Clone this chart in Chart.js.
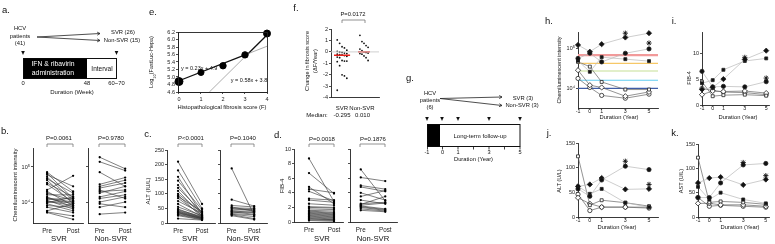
<!DOCTYPE html>
<html>
<head>
<meta charset="utf-8">
<script src="https://cdn.jsdelivr.net/npm/chart.js@4.4.0/dist/chart.umd.min.js"></script>
<style>
  body { margin: 0; background: #fff; }
  #fig { position: relative; width: 775px; height: 244px; overflow: hidden;
         font-family: 'Liberation Sans', Arial, sans-serif; color: #111; }
  #fig canvas, #fig svg { position: absolute; }
  .t { position: absolute; white-space: nowrap; line-height: 1; }
</style>
</head>
<body>
<div id="fig"></div>
<script>
// ---- b. chemiluminescent intensity before / after treatment
const bSvrPre  = [71000, 66000, 60000, 52000, 46000, 42000, 35000, 32000, 22000, 20000, 18000, 16000, 14000,
                  13000, 12600, 12000, 11200, 10500, 10000, 9500, 8900, 7900, 7100, 5600, 5200, 5000];
const bSvrPost = [20000, 12600, 28000, 11200, 18000, 8900, 14000, 10000, 56000, 7900, 11200, 16000, 7100,
                  10000, 8900, 12600, 6300, 7900, 10000, 14000, 5600, 7100, 5000, 8900, 4000, 3200];
const bNonPre  = [190000, 141000, 71000, 32000, 28000, 25000, 22000, 20000, 18000, 14000, 12600, 10000, 8900, 7100, 4500];
const bNonPost = [89000, 79000, 28000, 50000, 42000, 35000, 12600, 22000, 28000, 20000, 16000, 14000, 7100, 10000, 5000];

// ---- c. ALT (IU/L)
const cSvrPre  = [210, 180, 158, 145, 130, 120, 110, 100, 95, 90, 85, 75, 65, 55, 48, 45, 42, 40, 38, 36, 35, 33, 30, 28, 25, 15];
const cSvrPost = [65, 50, 30, 45, 28, 38, 24, 35, 20, 40, 26, 33, 22, 25, 18, 22, 20, 18, 17, 16, 15, 15, 14, 12, 11, 10];
const cNonPre  = [187, 80, 60, 55, 52, 50, 45, 42, 40, 38, 35, 32, 30, 28, 25];
const cNonPost = [26, 58, 55, 40, 50, 45, 48, 35, 42, 30, 38, 28, 22, 15, 12];

// ---- d. FIB-4
const dSvrPre  = [8.7, 6.7, 4.8, 4.5, 4.2, 3.2, 3.0, 2.5, 2.1, 2.0, 1.8, 1.6, 1.5, 1.4, 1.3, 1.2, 1.1, 1.0, 0.9, 0.8, 0.7, 0.6, 0.5, 0.4, 0.3, 0.2];
const dSvrPost = [2.8, 3.9, 2.5, 4.0, 2.9, 3.0, 2.7, 2.3, 2.0, 1.9, 1.7, 1.5, 1.3, 1.2, 1.1, 1.0, 0.9, 0.8, 0.7, 0.6, 0.5, 0.4, 0.3, 0.3, 0.2, 0.1];
const dNonPre  = [7.2, 6.1, 5.0, 4.8, 4.0, 3.5, 3.0, 2.5, 2.4, 2.3, 2.2, 2.1, 2.0, 1.8, 1.6];
const dNonPost = [2.9, 5.6, 4.5, 4.2, 3.0, 4.3, 2.5, 2.7, 3.5, 2.6, 1.8, 1.7, 1.6, 1.5, 1.4];

// ---- e. log10(FastLuc-Hepa) vs fibrosis score
const eScore = [0, 1, 2, 3, 4];
const eLuc = [4.88, 5.12, 5.30, 5.59, 6.16];
const eFitLowX = [0, 3, 4],    eFitLowY = [4.9, 5.59, 5.82];   // y = 0.23x + 4.9
const eFitHighX = [1.38, 3, 4], eFitHighY = [4.6, 5.54, 6.12]; // y = 0.58x + 3.8

// ---- f. change in fibrosis score per year
const fGroups = ['SVR', 'Non-SVR'];
const fSvr = [1.05, 0.75, 0.45, 0.35, 0.15, 0.05, 0.0, -0.05, -0.1, -0.15, -0.2, -0.25, -0.27,
              -0.32, -0.38, -0.45, -0.5, -0.75, -0.8, -0.8, -0.85, -1.2, -2.0, -2.1, -2.3, -3.35];
const fNon = [1.45, 0.9, 0.75, 0.55, 0.4, 0.25, 0.1, 0.01, -0.05, -0.1, -0.15, -0.2, -0.35, -0.5, -0.75];
const fMedian = [-0.295, 0.010];

// ---- h-k. long-term follow-up of 6 patients
const years = [-1, 0, 1, 3, 5];
const hCut = [70000, 43000, 27500, 16000, 10000];
const hN1 = [126000, 85000, 132000, 195000, 251000];
const hN2 = [57500, 77600, 46800, 77600, 100000];
const hN3 = [50100, 26300, 61700, 55000, 49000];
const hO1 = [46800, 35500, 14500, 9300, 9300];
const hO2 = [28800, 12000, 10500, 6300, 8100];
const hO3 = [17800, 10500, 6600, 5600, 7100];
const hStarX = [3, 5], hStarY = [251000, 141000];

const iN1 = [6.5, 3.5, 3.6, 3.5, 4.5];
const iN2 = [4.2, 4.8, 6.8, 8.5, 9.0];
const iN3 = [3.0, 3.4, 5.0, 8.8, 10.5];
const iO1 = [2.0, 2.7, 2.6, 2.7, 2.3];
const iO2 = [4.5, 1.7, 1.9, 2.0, 1.8];
const iO3 = [3.2, 2.8, 2.5, 2.4, 2.0];
const iStarX = [3, 5], iStarY = [9.2, 5.2];

const jN1 = [57, 42, 75, 103, 96];
const jN2 = [62, 66, 79, 56, 57];
const jN3 = [62, 47, 57, 29, 20];
const jO1 = [123, 24, 34, 29, 22];
const jO2 = [46, 13, 20, 20, 18];
const jO3 = [39, 27, 20, 20, 20];
const jStarX = [3, 5], jStarY = [113, 66];

const kN1 = [40, 40, 70, 107, 110];
const kN2 = [70, 80, 82, 66, 77];
const kN3 = [62, 36, 50, 36, 28];
const kO1 = [122, 30, 32, 30, 26];
const kO2 = [40, 22, 24, 22, 20];
const kO3 = [28, 28, 25, 25, 22];
const kStarX = [3, 5], kStarY = [112, 85];

const fig = document.getElementById('fig');
Chart.defaults.font.family = "'Liberation Sans', Arial, sans-serif";
Chart.defaults.color = '#222';

// absolutely placed text, centred on (x, y)
function T(x, y, html, size = 5.8, o = {}) {
  const d = document.createElement('div');
  d.className = 't';
  d.innerHTML = html;
  const tr = o.left ? 'translate(0,-50%)' : 'translate(-50%,-50%)';
  d.style.cssText += `left:${x}px;top:${y}px;font-size:${size}px;color:${o.c || '#111'};` +
    `transform:${tr}${o.rot ? ' rotate(-90deg)' : ''};`;
  fig.appendChild(d);
}

function axis(min, max, ticks, o = {}) {
  return {
    type: o.log ? 'logarithmic' : 'linear', min, max,
    afterBuildTicks: s => { s.ticks = ticks.map(v => ({ value: v })); },
    grid: { display: !o.noTicks, drawOnChartArea: false, tickLength: o.tl ?? 2, color: '#222', lineWidth: 0.8 },
    border: { display: true, color: '#222', width: 0.9 },
    ticks: { display: !o.hide, padding: o.pad ?? 1, autoSkip: false, maxRotation: 0, color: '#222',
             font: { size: o.size ?? 5.5 }, callback: o.cb || (v => v) },
  };
}

// chart area is [left, top, right, bottom] in page pixels
function plot(area, datasets, xs, ys, o = {}) {
  const [l, t, r, b] = area;
  const yW = o.yW ?? 14, xH = o.xH ?? 9, pT = o.pT ?? 5, pR = o.pR ?? 6;
  const cv = document.createElement('canvas');
  const W = r - l + yW + pR, H = b - t + pT + xH;
  cv.width = W; cv.height = H;
  cv.style.cssText = `left:${l - yW}px;top:${t - pT}px;width:${W}px;height:${H}px;`;
  fig.appendChild(cv);
  xs.afterFit = s => { s.height = xH; };
  ys.afterFit = s => { s.width = yW; };
  return new Chart(cv, {
    type: 'scatter',
    data: { datasets },
    options: {
      responsive: false, animation: false, devicePixelRatio: 1,
      layout: { padding: { left: 0, top: pT, right: pR, bottom: 0 } },
      scales: { x: xs, y: ys },
      plugins: { legend: { display: false }, tooltip: { enabled: false } },
    },
    plugins: o.plugins || [],
  });
}

function pairSets(pre, post) {
  return pre.map((v, i) => ({
    data: [{ x: 0, y: v }, { x: 1, y: post[i] }], showLine: true, clip: false,
    borderColor: '#3a3a3a', borderWidth: 0.65, pointRadius: 1.15,
    pointBackgroundColor: '#000', pointBorderWidth: 0,
  }));
}

function course(vals, style, filled) {
  return {
    data: vals.map((v, i) => ({ x: years[i], y: v })), showLine: true, clip: false,
    borderColor: filled ? '#b8b8b8' : '#666', borderWidth: 0.7,
    pointStyle: style, pointRadius: style === 'rectRot' ? 2.6 : 2.1,
    pointBackgroundColor: filled ? '#111' : '#fff', pointBorderColor: '#222', pointBorderWidth: 0.8,
  };
}

function stars(xs, ys) {
  return { data: xs.map((x, i) => ({ x, y: ys[i] })), clip: false, pointStyle: 'star',
           pointRadius: 2.6, pointBorderColor: '#111', pointBorderWidth: 0.9 };
}

const prePost = ['Pre', 'Post'];
const ppX = (min, max) => axis(min, max, [0, 1], { size: 6.3, pad: 2, cb: (v, i) => prePost[i], noTicks: true });

// ---- b
const bY = (hide) => axis(2512, 349000, [1e4, 1e5], { log: true, hide, cb: (v, i) => ['10⁴', '10⁵'][i] });
plot([33, 148, 83, 223], pairSets(bSvrPre, bSvrPost), ppX(-0.54, 1.38), bY(false), { xH: 10 });
plot([87, 148, 130, 223], pairSets(bNonPre, bNonPost), ppX(-0.46, 1.19), bY(true), { yW: 3, xH: 10 });

// ---- c
const cY = (hide) => axis(0, 250, [0, 50, 100, 150, 200, 250], { hide });
plot([167, 150, 215, 223], pairSets(cSvrPre, cSvrPost), ppX(-0.46, 1.54), cY(false), { xH: 10 });
plot([219, 150, 267, 223], pairSets(cNonPre, cNonPost), ppX(-0.52, 1.57), cY(true), { yW: 3, xH: 10 });

// ---- d
const dY = (hide) => axis(0, 10, [0, 2, 4, 6, 8, 10], { hide });
plot([294, 149, 343, 222], pairSets(dSvrPre, dSvrPost), ppX(-0.6, 1.36), dY(false), { xH: 10 });
plot([349, 149, 397, 222], pairSets(dNonPre, dNonPost), ppX(-0.44, 1.48), dY(true), { yW: 3, xH: 10 });

// ---- e
const frame = {
  id: 'frame',
  afterDraw(ch) {
    const a = ch.chartArea, g = ch.ctx;
    g.save(); g.strokeStyle = '#222'; g.lineWidth = 0.9;
    g.strokeRect(Math.round(a.left) + 0.5, Math.round(a.top) + 0.5, Math.round(a.right - a.left), Math.round(a.bottom - a.top));
    g.restore();
  },
};
const fitSet = (xs, ys, thickSeg) => ({
  data: xs.map((x, i) => ({ x, y: ys[i] })), showLine: true, pointRadius: 0, clip: false,
  borderColor: '#333', borderWidth: 1,
  segment: {
    borderWidth: c => c.p0DataIndex === thickSeg ? 1.3 : 0.6,
    borderColor: c => c.p0DataIndex === thickSeg ? '#111' : '#777',
  },
});
plot([178, 32, 267, 92], [
  { data: eScore.map((x, i) => ({ x, y: eLuc[i] })), clip: false, pointRadius: [4, 3, 3.2, 3.2, 3.5],
    pointBackgroundColor: '#000', pointBorderColor: '#000' },
  fitSet(eFitLowX, eFitLowY, 0),
  fitSet(eFitHighX, eFitHighY, 1),
], axis(-0.045, 4, [0, 1, 2, 3, 4], { pad: 2 }),
   axis(4.6, 6.2, [4.6, 4.8, 5.0, 5.2, 5.4, 5.6, 5.8, 6.0, 6.2], { cb: v => v.toFixed(1) }),
   { yW: 16, plugins: [frame] });

// ---- f
const fX = [0.92, 2.75];
const swarm = (vals, g, w) => vals.map((v, i) => ({ x: fX[g] + ((i % 5) - 2) * w, y: v }));
plot([331, 29, 379, 100], [
  { data: [{ x: 0, y: 0 }, { x: 4, y: 0 }], showLine: true, pointRadius: 0, borderColor: '#cfcfcf', borderWidth: 1 },
  { data: [{ x: fX[0] - 0.67, y: fMedian[0] }, { x: fX[0] + 0.67, y: fMedian[0] }], showLine: true, pointRadius: 0, borderColor: '#e8201a', borderWidth: 1.4 },
  { data: [{ x: fX[1] - 0.5, y: fMedian[1] }, { x: fX[1] + 0.5, y: fMedian[1] }], showLine: true, pointRadius: 0, borderColor: '#e8201a', borderWidth: 1.4 },
  { data: swarm(fSvr, 0, 0.2), pointRadius: 0.9, pointBackgroundColor: '#111', pointBorderWidth: 0, clip: false },
  { data: swarm(fNon, 1, 0.17), pointRadius: 0.9, pointBackgroundColor: '#111', pointBorderWidth: 0, clip: false },
], axis(0, 4, [], { hide: true, noTicks: true }),
   axis(-4, 2, [-4, -3, -2, -1, 0, 1, 2], {}), { xH: 2, yW: 12 });

// ---- h-k
const yrX = (min, max) => axis(min, max, years, { size: 5.3, pad: -1.5, tl: 1.6 });
const six = (n1, n2, n3, o1, o2, o3, sx, sy) => [
  stars(sx, sy),
  course(n1, 'circle', true), course(n2, 'rectRot', true), course(n3, 'rect', true),
  course(o1, 'rect', false), course(o2, 'rectRot', false), course(o3, 'circle', false),
];
const cutColors = ['#f29a9a', '#f6c868', '#c6df96', '#62cdf0', '#3f5ca6'];
const cutSets = hCut.map((v, i) => ({
  data: [{ x: -1, y: v }, { x: 5.76, y: v }], showLine: true, pointRadius: 0,
  borderColor: cutColors[i], borderWidth: i === 0 ? 2.2 : 1.2, order: 10,
}));
plot([578, 32, 658, 108], [...six(hN2, hN1, hN3, hO1, hO2, hO3, hStarX, hStarY), ...cutSets],
  yrX(-1, 5.76), axis(3162, 269000, [1e4, 1e5], { log: true, cb: (v, i) => ['10⁴', '10⁵'][i] }));
plot([702, 32, 770, 105], six(iN1, iN3, iN2, iO2, iO1, iO3, iStarX, iStarY),
  yrX(-1, 5.27), axis(0, 14.1, [0, 5, 10]), { pR: 4, yW: 12 });
plot([578, 143, 658, 217], six(jN1, jN2, jN3, jO1, jO3, jO2, jStarX, jStarY),
  yrX(-1, 5.76), axis(0, 150, [0, 50, 100, 150]));
plot([698, 144, 770, 217], six(kN1, kN2, kN3, kO1, kO3, kO2, kStarX, kStarY),
  yrX(-1, 5.29), axis(0, 150, [0, 50, 100, 150]), { pR: 4 });

// ---- schematic shapes (panels a, g) and P-value brackets
const tri = (x, y) => `<polygon points="${x - 1.8},${y - 2} ${x + 1.8},${y - 2} ${x},${y + 2}" fill="#111"/>`;
const arrow = (x1, y1, x2, y2) => {
  const a = Math.atan2(y2 - y1, x2 - x1), L = 3.2;
  const p = s => `${x2 - L * Math.cos(a + s)},${y2 - L * Math.sin(a + s)}`;
  return `<line x1="${x1}" y1="${y1}" x2="${x2}" y2="${y2}" stroke="#222" stroke-width="0.8"/>` +
         `<polyline points="${p(0.5)} ${x2},${y2} ${p(-0.5)}" fill="none" stroke="#222" stroke-width="0.8"/>`;
};
const bracket = (x1, x2, y) => `<path d="M${x1} ${y + 3}V${y}H${x2}V${y + 3}" fill="none" stroke="#777" stroke-width="0.8"/>`;
let svg = '';
// a
svg += arrow(37, 37, 100, 33.5) + arrow(37, 37, 100, 40.5);
svg += tri(23, 53) + tri(116.5, 53);
svg += '<rect x="23.5" y="58.5" width="93" height="20" fill="#fff" stroke="#111" stroke-width="1"/>';
svg += '<rect x="23.5" y="58.5" width="63.5" height="20" fill="#000"/>';
// g
svg += arrow(440, 98.5, 502, 97) + arrow(440, 98.5, 502, 105.5);
[427, 442, 458, 489, 520].forEach(x => { svg += tri(x, 119); });
svg += '<rect x="427.5" y="124.5" width="92.5" height="22" fill="#fff" stroke="#111" stroke-width="1"/>';
svg += '<rect x="427.5" y="124.5" width="12.5" height="22" fill="#000"/>';
[427.5, 442.5, 458, 473.5, 489, 504.5, 520].forEach(x => {
  svg += `<line x1="${x}" y1="146.5" x2="${x}" y2="149.5" stroke="#111" stroke-width="0.8"/>`;
});
// brackets
svg += bracket(47, 73, 144) + bracket(99, 125, 144);
svg += bracket(178, 202, 144) + bracket(231, 254, 144);
svg += bracket(309, 334, 144) + bracket(360, 385, 144);
svg += bracket(342, 365, 20);
fig.insertAdjacentHTML('beforeend',
  `<svg width="775" height="244" viewBox="0 0 775 244" style="left:0;top:0">${svg}</svg>`);

// ---- text
const L = 9.5;
T(6, 10, 'a.', L); T(153, 12, 'e.', L); T(296, 8, 'f.', L); T(410, 78, 'g.', L);
T(549, 21, 'h.', L); T(674, 21, 'i.', L);
T(5, 131, 'b.', L); T(148, 134, 'c.', L); T(278, 135, 'd.', L); T(549, 133, 'j.', L); T(675, 133, 'k.', L);

// a
T(20, 29, 'HCV'); T(20, 37, 'patients'); T(20, 44, '(41)');
T(123, 33, 'SVR (26)'); T(122, 41, 'Non-SVR (15)');
T(53, 63.5, 'IFN &amp; ribavirin', 6.8, { c: '#fff' }); T(53, 72.5, 'administration', 6.8, { c: '#fff' });
T(102, 68.5, 'Interval', 6.5);
T(23, 84, '0'); T(87, 84, '48'); T(116.5, 84, '60~70');
T(72, 91.5, 'Duration (Week)', 6);

// e
T(153, 62, 'Log<sub style="font-size:4px">10</sub>(FastLuc-Hepa)', 5.5, { rot: true });
T(222, 108, 'Histopathological fibrosis score (F)', 5.8);
T(181, 69, 'y = 0.23x + 4.9', 5.5, { left: true });
T(249, 81, 'y = 0.58x + 3.8', 5.5);

// f
T(353, 15, 'P=0.0172', 5.8);
T(308, 61, 'Change in fibrosis score', 5.6, { rot: true });
T(315.5, 61, '(ΔF/Year)', 5.6, { rot: true });
T(342, 108, fGroups[0], 6); T(362, 108, fGroups[1], 6);
T(317, 115, 'Median:', 6); T(342, 115, fMedian[0].toFixed(3), 6); T(362.5, 115, fMedian[1].toFixed(3), 6);

// g
T(430, 94, 'HCV'); T(430, 101, 'patients'); T(430, 108, '(6)');
T(523, 98.5, 'SVR (3)'); T(522, 106, 'Non-SVR (3)');
T(480, 136, 'Long-term follow-up', 6);
T(427, 153, '-1', 5.6); T(442.5, 153, '0', 5.6); T(458, 153, '1', 5.6); T(489, 153, '3', 5.6); T(520, 153, '5', 5.6);
T(473.5, 160, 'Duration (Year)', 5.8);

// b, c, d
T(15, 185, 'Chemiluminescent intensity', 6, { rot: true });
T(59, 138, 'P=0.0061', 6); T(111, 138, 'P=0.9780', 6);
T(59, 238.5, 'SVR', 7.7); T(111, 238.5, 'Non-SVR', 7.7);
T(148, 191, 'ALT (IU/L)', 6, { rot: true });
T(191, 138, 'P&lt;0.0001', 6); T(243, 138, 'P=0.1040', 6);
T(190, 238.5, 'SVR', 7.7); T(243, 238.5, 'Non-SVR', 7.7);
T(282, 186, 'FIB-4', 6, { rot: true });
T(322, 139, 'P=0.0018', 6); T(373, 139, 'P=0.1876', 6);
T(322, 238.5, 'SVR', 7.7); T(373, 238.5, 'Non-SVR', 7.7);

// h-k
T(560, 70, 'Chemiluminescent intensity', 5.5, { rot: true });
T(619, 118, 'Duration (Year)', 5.8);
T(690, 78, 'FIB-4', 5.5, { rot: true });
T(738, 118, 'Duration (Year)', 5.8);
T(560, 181, 'ALT (U/L)', 5.5, { rot: true });
T(617, 227.5, 'Duration (Year)', 5.8);
T(681.5, 181, 'AST (U/L)', 5.5, { rot: true });
T(740, 227.5, 'Duration (Year)', 5.8);
</script>
</body>
</html>
